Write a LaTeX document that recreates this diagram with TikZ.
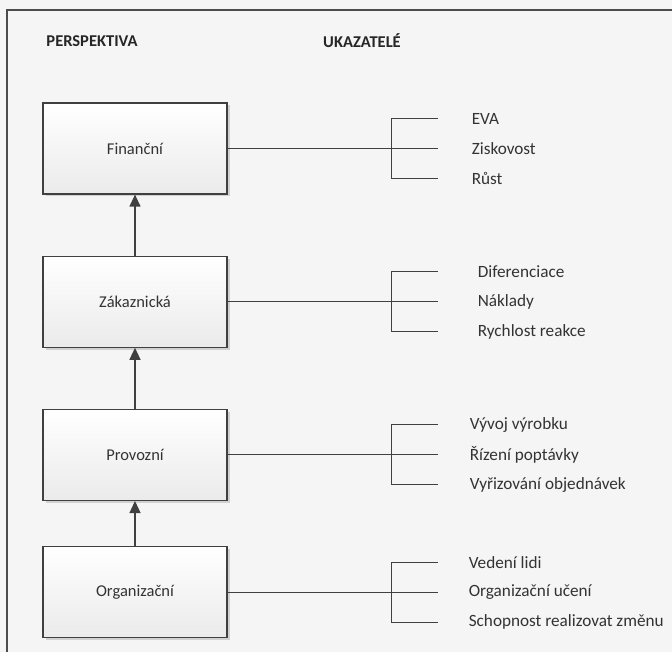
\documentclass[tikz,border=0pt]{standalone}
\usepackage{fontspec}
\setmainfont{Carlito}
\usetikzlibrary{arrows.meta, positioning, shadows}
\tikzset{
    perspective/.style={draw=black!75, line width=1.2pt, top color=white, bottom color=black!8,
        minimum width=184pt, minimum height=91pt, font=\fontsize{16.5}{20}\selectfont, text=black!80,
        drop shadow={shadow xshift=2.5pt, shadow yshift=-2.5pt, fill=black!18, opacity=1}},
    header/.style={font=\fontsize{16.5}{20}\selectfont\bfseries, text=black!85},
    indicator/.style={anchor=west, inner sep=0pt, font=\fontsize{17.2}{20}\selectfont, text=black!80},
    arrow/.style={line width=1.2pt, draw=black!75, -{Triangle[width=11pt, length=12pt]}},
    branch/.style={line width=0.9pt, draw=black!75}
}
\begin{document}
\begin{tikzpicture}[x=1pt, y=-1pt]
        \useasboundingbox (0,0) rectangle (672,652);
        % Background and frame
        \fill[black!4] (0,0) rectangle (672,652);
        \draw[line width=1.5pt, black!70] (7,652) -- (7,10) -- (672,10);

        % Headers
        \node[header] (persp) at (92,41) {PERSPEKTIVA};
        \node[header] (ukaz) at (362,41) {UKAZATELÉ};

        % Perspectives
        \node[perspective] (fin) at (135,148.5) {Finanční};
        \node[perspective, below=61pt of fin] (zak) {Zákaznická};
        \node[perspective, below=61pt of zak] (pro) {Provozní};
        \node[perspective, below=45pt of pro] (org) {Organizační};

        % Arrows
        \draw[arrow] (org) -- (pro);
        \draw[arrow] (pro) -- (zak);
        \draw[arrow] (zak) -- (fin);

        % Indicators
        \foreach \src/\dx/\la/\lb/\lc in {fin/34/EVA/Ziskovost/Růst,
            zak/40/Diferenciace/Náklady/Rychlost reakce,
            pro/32/Vývoj výrobku/Řízení poptávky/Vyřizování objednávek,
            org/31/Vedení lidi/Organizační učení/Schopnost realizovat změnu}{
            \path (\src.east) ++(164,0) coordinate (\src-j);
            \path (\src-j) ++(46,-30) coordinate (\src-a);
            \path (\src-j) ++(46,0) coordinate (\src-b);
            \path (\src-j) ++(46,30) coordinate (\src-c);
            \node[indicator, right=\dx pt of \src-a] (\src-la) {\la};
            \node[indicator, right=\dx pt of \src-b] (\src-lb) {\lb};
            \node[indicator, right=\dx pt of \src-c] (\src-lc) {\lc};
            \draw[branch] (\src.east) -- (\src-j);
            \draw[branch] (\src-a) -- (\src-a -| \src-j) -- (\src-c -| \src-j) -- (\src-c);
            \draw[branch] (\src-j) -- (\src-b);
        }
    \end{tikzpicture}
\end{document}
